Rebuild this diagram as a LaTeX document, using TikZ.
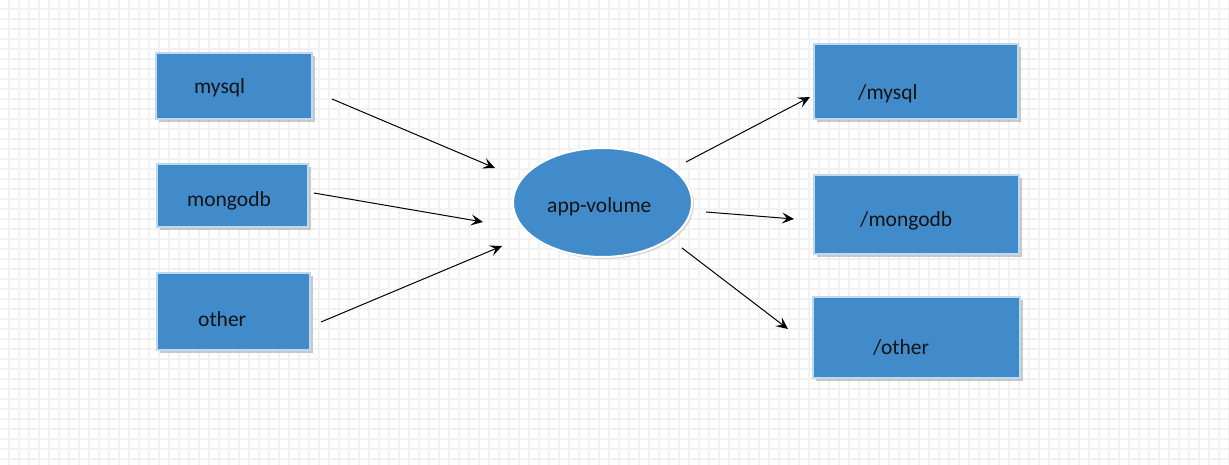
\documentclass[tikz,border=0pt]{standalone}
\usepackage{fontspec}
\setmainfont{Carlito}
\usetikzlibrary{shapes.geometric,shadows,arrows.meta}
\definecolor{boxblue}{RGB}{66,139,202}
\definecolor{boxedge}{RGB}{190,218,242}
\tikzset{
  box/.style={rectangle,fill=boxblue,draw=boxedge,line width=1.5pt,inner sep=0pt,
    drop shadow={shadow xshift=3pt,shadow yshift=-3pt,fill=black!35,opacity=.6}},
  vol/.style={ellipse,fill=boxblue,draw=white,line width=2pt,inner sep=0pt,
    minimum width=179,minimum height=109,
    drop shadow={shadow xshift=2pt,shadow yshift=-2pt,fill=black!25,opacity=.6}},
  lbl/.style={anchor=base west,inner sep=0pt,text=black!92,font=\fontsize{21.5}{25}\selectfont},
  gridline/.style={black!5,line width=1.4pt},
  link/.style={line width=1pt,-{Stealth[length=12pt,width=11pt,inset=5pt]}}
}
\begin{document}
\begin{tikzpicture}[x=1pt,y=-1pt]
		\useasboundingbox (0,0) rectangle (1229,465);
		\foreach \x in {9,19,...,1229} \draw[gridline] (\x,0) -- (\x,465);
		\foreach \y in {9,19,...,465} \draw[gridline] (0,\y) -- (1229,\y);
		% left side
		\node[box,minimum width=156,minimum height=66] (mysql) at (234,86) {};
		\node[box,minimum width=151,minimum height=63] (mongodb) at (232.5,195.5) {};
		\node[box,minimum width=153,minimum height=77] (other) at (233.5,311.5) {};
		\node[lbl] (mysqlT) at (194,94) {mysql};
		\node[lbl] (mongodbT) at (187,207) {mongodb};
		\node[lbl] (otherT) at (198,326) {other};
		% volume
		\node[vol] (vol) at (602.5,202.5) {};
		\node[lbl] (volT) at (547,213) {app-volume};
		% right side
		\node[box,minimum width=204,minimum height=75] (dmysql) at (916,81.5) {};
		\node[box,minimum width=205,minimum height=79] (dmongodb) at (916.5,214.5) {};
		\node[box,minimum width=207,minimum height=81] (dother) at (916.5,337.5) {};
		\node[lbl] (dmysqlT) at (858,100) {/mysql};
		\node[lbl] (dmongodbT) at (860,227) {/mongodb};
		\node[lbl] (dotherT) at (873,354) {/other};
		% arrow ends
		\coordinate (a1) at (332,99);   \coordinate (b1) at (495,168);
		\coordinate (a2) at (314,193);  \coordinate (b2) at (483,222);
		\coordinate (a3) at (321,322);  \coordinate (b3) at (502,246);
		\coordinate (c1) at (686,162);  \coordinate (d1) at (810,97);
		\coordinate (c2) at (706,212);  \coordinate (d2) at (794,219);
		\coordinate (c3) at (682,248);  \coordinate (d3) at (788,329);
		\draw[link] (a1) -- (b1);
		\draw[link] (a2) -- (b2);
		\draw[link] (a3) -- (b3);
		\draw[link] (c1) -- (d1);
		\draw[link] (c2) -- (d2);
		\draw[link] (c3) -- (d3);
	\end{tikzpicture}
\end{document}
